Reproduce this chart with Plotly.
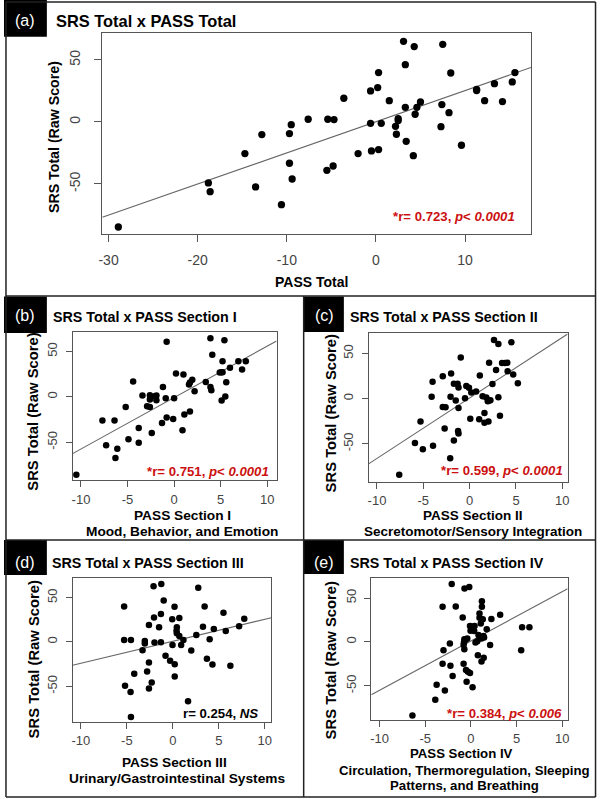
import numpy as np
import plotly.graph_objects as go

# ---------------- data ----------------
# (a) PASS Total vs SRS Total
a_x = [-28.9, -18.8, -18.6, -14.7, -13.5, -12.8, -10.6, -9.7, -9.7, -9.5, -9.4, -7.6, -5.5, -5.4,
       -4.8, -4.7, -3.6, -2.0, -0.6, -0.6, -0.5, 0.2, 0.3, 0.3, 0.6, 1.5, 2.2, 2.3, 2.5, 2.5, 3.1,
       3.3, 3.3, 3.4, 4.2, 4.3, 4.4, 4.6, 5.0, 7.3, 7.4, 7.5, 8.2, 8.4, 9.6, 11.3, 11.3, 12.2, 13.3,
       14.2, 15.3, 15.6]
a_y = [-84.7, -49.2, -56.2, -25.5, -52.4, -10.2, -66.7, -33.3, -9.4, -2.2, -46.0, 2.2, -39.0, 2.2,
       -35.5, 1.9, 19.1, -25.5, 25.0, -1.1, -23.4, 27.7, 39.8, -22.3, -1.1, 17.2, -3.5, -9.9, 2.7, 1.1,
       65.0, 11.8, 46.2, -15.6, -27.2, 60.8, 6.2, 11.8, 16.1, -3.8, 14.0, 62.6, 7.5, 39.5, -18.8, 26.3,
       25.3, 17.2, 30.9, 16.4, 32.3, 39.8]

# (b) PASS Section I
b_x = [-10.5, -7.7, -7.3, -6.4, -6.3, -6.1, -5.2, -4.9, -4.4, -3.8, -3.8, -3.4, -2.9, -2.6, -2.6,
       -2.6, -2.4, -2.1, -1.9, -1.9, -1.3, -1.2, -0.9, -0.8, -0.8, -0.1, 0.0, 0.2, 0.9, 1.0, 1.1, 1.6,
       1.7, 1.7, 1.95, 2.2, 3.4, 3.9, 3.9, 4.0, 4.1, 4.9, 5.1, 5.1, 5.2, 5.2, 5.4, 5.5, 5.6, 6.0, 6.9,
       7.3, 7.7]
b_y = [-85.7, -26.1, -53.3, -26.1, -67.3, -57.0, -11.0, -46.7, 16.9, -34.2, -50.4, 1.5, -10.3, 1.8,
       -2.9, -11.0, -39.7, 0.7, -3.7, 1.5, -28.7, 11.0, -1.5, 60.7, -22.8, -24.3, -1.5, 25.7, -36.8,
       24.6, -19.5, 13.6, -16.2, 15.8, 18.8, 6.3, 16.5, 64.7, 11.0, 7.4, 46.3, 26.8, -4.0, 27.2, 39.3,
       27.2, 62.5, 0.4, 16.2, 32.0, 39.3, 30.1, 39.3]

# (c) PASS Section II
c_x = [-7.6, -5.9, -5.3, -5.05, -4.1, -4.0, -3.95, -2.9, -2.0, -2.9, -2.6, -2.7, -2.1, -2.06, -1.7,
       -1.7, -1.5, -1.3, -1.2, -1.25, -1.2, -1.2, -0.96, -0.5, -0.36, -0.07, 0.07, 0.18, 0.7, 1.03,
       1.1, 1.4, 1.6, 1.6, 1.8, 1.96, 2.03, 2.1, 2.1, 2.24, 2.46, 2.63, 2.85, 3.1, 3.1, 3.27, 3.5, 3.8,
       4.06, 4.1, 4.5, 4.7, 5.2]
c_y = [-84.3, -49.3, -25.4, -56.0, 1.9, 18.7, -52.2, 24.6, 27.6, -9.3, -9.7, -33.2, -66.0, 1.9, -46.3,
       16.4, -2.2, 16.4, 12.3, -35.8, -38.8, -10.4, 45.5, 0.4, 13.8, 11.9, -22.4, 6.7, 7.8, -22.8,
       25.4, 2.6, -16.0, -26.9, 1.1, -3.0, -25.4, 39.6, -2.2, -1.9, 16.0, 64.9, 31.7, 60.4, 1.5, -19.0,
       39.2, 39.2, 39.6, 30.2, 62.3, 26.5, 16.8]

# (d) PASS Section III
d_x = [-4.56, -5.3, -5.3, -5.2, -4.56, -4.6, -4.2, -3.3, -3.05, -3.05, -2.8, -2.6, -2.6, -2.6, -2.3,
       -2.1, -2.05, -2.0, -1.5, -1.3, -1.3, -1.26, -1.0, -0.8, -0.3, -0.07, -0.04, 0.18, 0.2, 0.2, 0.4,
       0.43, 0.43, 0.7, 0.7, 0.9, 1.15, 1.65, 2.0, 2.55, 2.76, 3.27, 3.45, 3.7, 4.0, 4.3, 4.45, 5.5,
       5.75, 6.25, 7.2, 7.76]
d_y = [-84.6, 40.0, 2.2, -49.4, 2.2, -56.6, -36.0, -9.4, 1.1, -1.9, -33.3, 19.1, -23.2, -52.4, -45.7,
       62.9, 27.7, -0.7, 16.5, -0.4, 31.5, 65.5, 46.8, -15.7, -21.3, 25.5, -3.4, 39.7, -25.1, -39.0,
       12.7, 16.5, 9.7, 27.0, 6.7, -3.4, 2.2, -67.0, -9.7, 7.9, 61.0, 17.2, 40.1, -19.1, 3.0, -25.5,
       14.6, 33.0, 12.4, -27.0, 17.6, 26.2]

# (e) PASS Section IV
e_x = [-6.4, -3.9, -3.75, -3.1, -3.0, -3.1, -2.85, -2.3, -2.24, -2.1, -2.0, -1.66, -0.9, -0.8, -0.8,
       -0.76, -0.72, -0.72, -0.7, -0.58, -0.54, -0.47, -0.4, -0.32, -0.18, -0.1, -0.1, -0.04, 0.14,
       0.18, 0.18, 0.36, 0.4, 0.5, 0.7, 0.76, 0.83, 0.94, 0.94, 0.97, 1.08, 1.16, 1.16, 1.2, 1.2, 1.3,
       1.37, 1.4, 1.44, 1.73, 2.1, 2.24, 3.2, 5.5, 5.6, 6.4]
e_y = [-83.8, -66.0, -48.7, 40.0, -9.4, -24.9, -55.5, -1.9, -27.2, 66.0, -38.9, 40.4, 27.9, -24.9,
       -3.4, -0.8, 3.0, -8.3, 60.8, 2.6, -32.1, -45.3, 3.8, -34.0, 62.6, -35.5, 18.1, 12.8, 14.0, 17.4,
       -51.7, 12.5, 18.1, -0.8, 0.8, -15.1, 7.9, 32.5, 27.5, 4.5, 21.1, 3.8, -22.3, 46.4, 40.0, 25.7,
       6.8, -18.1, 4.9, 14.3, -3.4, 26.0, 30.9, -9.4, 16.6, 16.6]

panel_letters = ["(a)", "(b)", "(c)", "(d)", "(e)"]
panel_titles = ["SRS Total x PASS Total", "SRS Total x PASS Section I", "SRS Total x PASS Section II",
                "SRS Total x PASS Section III", "SRS Total x PASS Section IV"]
x_titles = [["PASS Total"],
            ["PASS Section I", "Mood, Behavior, and Emotion"],
            ["PASS Section II", "Secretomotor/Sensory Integration"],
            ["PASS Section III", "Urinary/Gastrointestinal Systems"],
            ["PASS Section IV", "Circulation, Thermoregulation, Sleeping", "Patterns, and Breathing"]]
y_title = "SRS Total (Raw Score)"
r_values = ["0.723", "0.751", "0.599", "0.254", "0.384"]
p_values = ["0.0001", "0.0001", "0.0001", None, "0.006"]
x_ticks_a = [-30, -20, -10, 0, 10]
x_ticklabels_a = ["-30", "-20", "-10", "0", "10"]
x_ticks_sub = [-10, -5, 0, 5, 10]
x_ticklabels_sub = ["-10", "-5", "0", "5", "10"]
y_ticks = [-50, 0, 50]
y_ticklabels = ["-50", "0", "50"]

# ---------------- layout geometry (pixels) ----------------
W, H = 600, 799
def px(x): return x / W
def py(y): return 1 - y / H

FONT = "Liberation Sans, Arial, Helvetica, sans-serif"
RED = "#cc1010"
AX = "#555555"

# plot boxes: left, right, top, bottom
boxes = [(99.3, 532.3, 33.3, 234.3),
         (69.3, 275.3, 331.7, 480.0),
         (368.3, 569.3, 333.3, 481.7),
         (69.3, 270.0, 578.3, 721.7),
         (371.0, 569.3, 578.3, 720.0)]
x_ranges = [(-30.7, 17.4), (-10.9, 11.0), (-10.9, 10.57), (-10.9, 10.7), (-10.9, 10.58)]
y_ranges = [(-90.6, 71.5), (-91.5, 71.8), (-92.0, 72.2), (-90.0, 71.8), (-89.0, 72.5)]
label_boxes = [(0, 43.3, 0, 36.7), (0, 43.3, 296.5, 333), (302.7, 343.3, 296.5, 332),
               (0, 43.3, 540, 575), (302.7, 343.3, 540, 574)]
label_pos = [(21, 20.5), (21, 315.5), (323.5, 315), (21.5, 562.5), (323.3, 562.5)]
title_pos = [(50.5, 21), (47.3, 317.3), (347.3, 316.7), (46.3, 563.3), (347.3, 562.7)]
ytitle_pos = [(50, 137.5), (29.3, 411.7), (330.7, 413), (30.7, 659), (330.7, 660)]
xtitle_pos = [[(310.5, 282)],
              [(180, 515.5), (180, 531)],
              [(473.5, 515.5), (473.5, 531)],
              [(172.5, 762), (174.3, 778)],
              [(462.5, 753), (464.7, 770), (465.5, 785.5)]]
x_title_sizes = [14, 13.7, 13.5, 13.7, 13.2]
x_standoff = [6, 1, 1, 1, 0]
stat_pos = [(518, 216), (269.5, 471.7), (566.5, 470.7), (259, 713.3), (566, 713.3)]

data = [(a_x, a_y), (b_x, b_y), (c_x, c_y), (d_x, d_y), (e_x, e_y)]

fig = go.Figure()
shapes = []
annotations = []

for i, ((xs, ys), box) in enumerate(zip(data, boxes)):
    n = "" if i == 0 else str(i + 1)
    xa, ya = "x" + n, "y" + n
    big = i == 0
    xs_arr, ys_arr = np.array(xs), np.array(ys)
    slope, intercept = np.polyfit(xs_arr, ys_arr, 1)
    lx = np.array(x_ranges[i])
    fig.add_trace(go.Scatter(x=lx, y=intercept + slope * lx, mode="lines",
                             line=dict(color="#666666", width=1.1),
                             xaxis=xa, yaxis=ya, showlegend=False, hoverinfo="skip"))
    fig.add_trace(go.Scatter(x=xs, y=ys, mode="markers",
                             marker=dict(color="black", size=7.3 if big else 6.5),
                             xaxis=xa, yaxis=ya, showlegend=False))
    l, r, t, b = box
    common = dict(showline=True, mirror=True, linecolor=AX, linewidth=1,
                  ticks="outside", ticklen=7 if big else 6, tickcolor=AX, tickwidth=1,
                  showgrid=False, zeroline=False,
                  tickfont=dict(family=FONT, size=14 if big else 13, color="#444444"))
    fig.update_layout(**{
        ("xaxis" + n): dict(domain=[px(l), px(r)], range=list(x_ranges[i]), anchor=ya,
                            tickvals=x_ticks_a if big else x_ticks_sub,
                            ticktext=x_ticklabels_a if big else x_ticklabels_sub,
                            ticklabelstandoff=x_standoff[i], **common),
        ("yaxis" + n): dict(domain=[py(b), py(t)], range=list(y_ranges[i]), anchor=xa,
                            tickvals=y_ticks, ticktext=y_ticklabels, tickangle=-90,
                            ticklabelstandoff=9 if big else 3, **common),
    })

    # black letter box
    bl, br, bt, bb = label_boxes[i]
    shapes.append(dict(type="rect", xref="paper", yref="paper", x0=px(bl), x1=px(br),
                       y0=py(bb), y1=py(bt), fillcolor="black", line=dict(width=0), layer="above"))
    lxp, lyp = label_pos[i]
    annotations.append(dict(text=panel_letters[i], x=px(lxp), y=py(lyp), xref="paper", yref="paper",
                            showarrow=False, xanchor="center", yanchor="middle",
                            font=dict(family=FONT, size=16, color="white")))
    tx, ty = title_pos[i]
    annotations.append(dict(text="<b>" + panel_titles[i] + "</b>", x=px(tx), y=py(ty),
                            xref="paper", yref="paper", showarrow=False,
                            xanchor="left", yanchor="middle",
                            font=dict(family=FONT, size=16.4 if big else 14.3, color="black")))
    yx, yy = ytitle_pos[i]
    annotations.append(dict(text="<b>" + y_title + "</b>", x=px(yx), y=py(yy),
                            xref="paper", yref="paper", showarrow=False, textangle=-90,
                            xanchor="center", yanchor="middle",
                            font=dict(family=FONT, size=14.2 if big else 14.8, color="black")))
    for line_txt, (qx, qy) in zip(x_titles[i], xtitle_pos[i]):
        annotations.append(dict(text="<b>" + line_txt + "</b>", x=px(qx), y=py(qy),
                                xref="paper", yref="paper", showarrow=False,
                                xanchor="center", yanchor="middle",
                                font=dict(family=FONT, size=x_title_sizes[i], color="black")))
    sx, sy = stat_pos[i]
    if p_values[i] is None:
        stat = "<b>r= " + r_values[i] + ", <i>NS</i></b>"
        col = "black"
    else:
        stat = "<b>*r= " + r_values[i] + ", <i>p</i>&lt; <i>" + p_values[i] + "</i></b>"
        col = RED
    annotations.append(dict(text=stat, x=px(sx), y=py(sy), xref="paper", yref="paper",
                            showarrow=False, xanchor="right", yanchor="middle",
                            font=dict(family=FONT, size=13.2, color=col)))

# panel frames
FR = dict(color="#222222", width=1.5)
def hline(y, x0, x1):
    shapes.append(dict(type="line", xref="paper", yref="paper", x0=px(x0), x1=px(x1),
                       y0=py(y), y1=py(y), line=FR))
def vline(x, y0, y1):
    shapes.append(dict(type="line", xref="paper", yref="paper", x0=px(x), x1=px(x),
                       y0=py(y0), y1=py(y1), line=FR))

hline(2, 2, 597.5)
hline(296, 2, 597.5)
hline(540, 2, 597.5)
hline(797, 2, 597.5)
vline(2, 2, 797)
vline(597.5, 2, 797)
vline(302.7, 296, 797)

fig.update_layout(width=W, height=H, margin=dict(l=0, r=0, t=0, b=0),
                  paper_bgcolor="white", plot_bgcolor="white",
                  shapes=shapes, annotations=annotations, showlegend=False,
                  font=dict(family=FONT))

fig.write_html("out.html", config={"displayModeBar": False},
               post_script="document.body.style.margin='0';document.body.style.padding='0';"
                           "document.body.style.overflow='hidden';"
                           "document.documentElement.style.overflow='hidden';")
